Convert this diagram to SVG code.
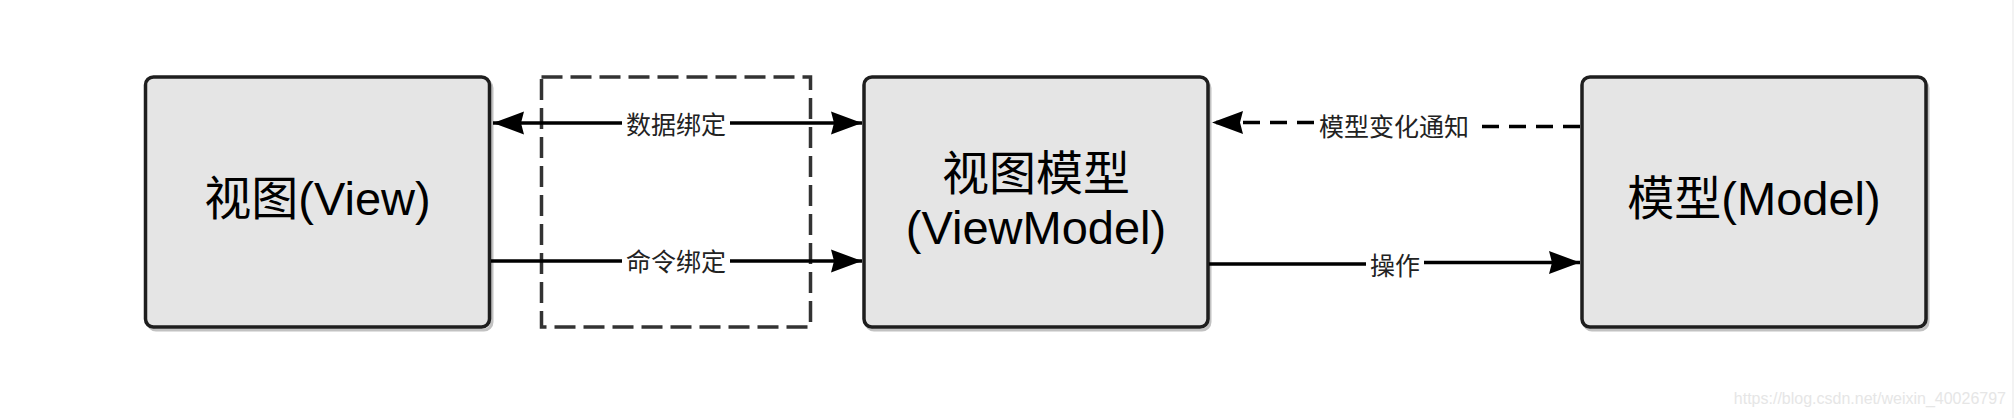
<svg xmlns="http://www.w3.org/2000/svg" width="2016" height="418" viewBox="0 0 2016 418">
  <style>
    .box { fill: #e5e5e5; stroke: #1e1e1e; stroke-width: 3.5; }
    .shadow { fill: none; stroke: #9a9a9a; stroke-width: 3; opacity: 0.6; }
    .big { font-family: "Liberation Sans", "Noto Sans CJK SC", sans-serif; font-size: 47px; fill: #000; text-anchor: middle; }
    .lbl { font-family: "Liberation Sans", "Noto Sans CJK SC", sans-serif; font-size: 25px; fill: #222; text-anchor: middle; }
    .lblbg { fill: #ffffff; }
    .conn { fill: none; stroke: #000; stroke-width: 3.5; }
    .dash { stroke-dasharray: 17 10; }
    .group { fill: none; stroke: #333; stroke-width: 3.5; stroke-dasharray: 21 8; }
  </style>
  <defs>
    <marker id="arrow" markerUnits="userSpaceOnUse" markerWidth="34" markerHeight="26" viewBox="0 0 34 26" refX="32" refY="13" orient="auto-start-reverse">
      <path d="M1,1.5 L32,13 L1,24.5 L4,13 Z" fill="#000" stroke="none"/>
    </marker>
  </defs>
  <rect width="2016" height="418" fill="#ffffff"/>
  <line x1="2013" y1="0" x2="2013" y2="418" stroke="#f3f3f3" stroke-width="2"/>

  <g id="binding-group">
    <rect class="group" x="541.5" y="77" width="269" height="250"/>
  </g>

  <g id="node-view">
    <rect class="shadow" x="148" y="80" width="344" height="250" rx="8"/>
    <rect class="box" x="145.5" y="77" width="344" height="250" rx="8"/>
    <text class="big" x="317.5" y="215">视图(View)</text>
  </g>

  <g id="node-viewmodel">
    <rect class="shadow" x="866" y="80" width="344" height="250" rx="8"/>
    <rect class="box" x="864" y="77" width="344" height="250" rx="8"/>
    <text class="big" x="1036" y="190">视图模型</text>
    <text class="big" x="1036" y="244">(ViewModel)</text>
  </g>

  <g id="node-model">
    <rect class="shadow" x="1584" y="80" width="344" height="250" rx="8"/>
    <rect class="box" x="1582" y="77" width="344" height="250" rx="8"/>
    <text class="big" x="1754" y="215">模型(Model)</text>
  </g>

  <g id="connectors">
    <path class="conn" d="M493,123 H862" marker-start="url(#arrow)" marker-end="url(#arrow)"/>
    <path class="conn" d="M491,261 H862" marker-end="url(#arrow)"/>
    <path class="conn dash" d="M1580,126.5 H1394 V122.5 H1212" marker-end="url(#arrow)"/>
    <path class="conn" d="M1209,264 H1395 V262.5 H1580" marker-end="url(#arrow)"/>

    <rect class="lblbg" x="622" y="111" width="108" height="28"/>
    <text class="lbl" x="676" y="134">数据绑定</text>
    <rect class="lblbg" x="622" y="249" width="108" height="28"/>
    <text class="lbl" x="676" y="271">命令绑定</text>
    <rect class="lblbg" x="1314" y="113" width="160" height="28"/>
    <text class="lbl" x="1394" y="136">模型变化通知</text>
    <rect class="lblbg" x="1366" y="252" width="58" height="28"/>
    <text class="lbl" x="1395" y="275">操作</text>
  </g>

  <text x="2006" y="404" font-family="Liberation Sans, sans-serif" font-size="16" fill="#e6e6e6" text-anchor="end">https://blog.csdn.net/weixin_40026797</text>
</svg>
